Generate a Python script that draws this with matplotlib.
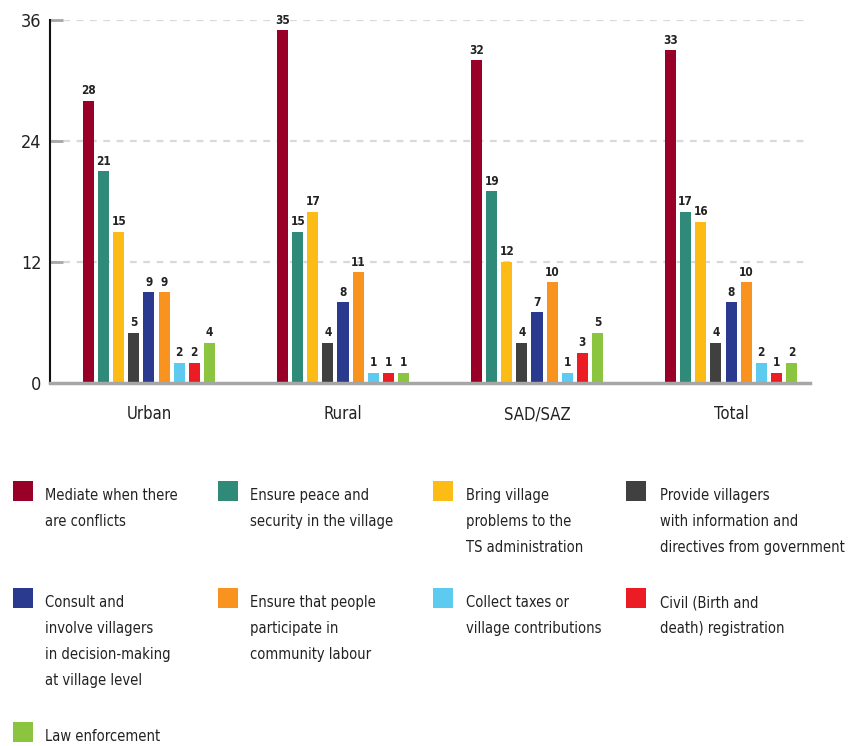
import matplotlib
matplotlib.use("Agg")
import matplotlib.pyplot as plt
from matplotlib import font_manager
from matplotlib.patches import Rectangle
import numpy as np

# ---- data ----
groups = ["Urban", "Rural", "SAD/SAZ", "Total"]
series = [
    "Mediate when there\nare conflicts",
    "Ensure peace and\nsecurity in the village",
    "Bring village\nproblems to the\nTS administration",
    "Provide villagers\nwith information and\ndirectives from government",
    "Consult and\ninvolve villagers\nin decision-making\nat village level",
    "Ensure that people\nparticipate in\ncommunity labour",
    "Collect taxes or\nvillage contributions",
    "Civil (Birth and\ndeath) registration",
    "Law enforcement",
]
values = [
    [28, 35, 32, 33],   # Mediate
    [21, 15, 19, 17],   # Peace and security
    [15, 17, 12, 16],   # Bring problems
    [5, 4, 4, 4],       # Provide information
    [9, 8, 7, 8],       # Consult and involve
    [9, 11, 10, 10],    # Community labour
    [2, 1, 1, 2],       # Collect taxes
    [2, 1, 3, 1],       # Civil registration
    [4, 1, 5, 2],       # Law enforcement
]
yticks = [0, 12, 24, 36]

colors = ["#990028", "#2F8A7A", "#FDBB15", "#404040", "#2A3A8F",
          "#F7931E", "#5CCBEF", "#EC1C24", "#8BC43F"]

# ---- fonts ----
installed = {f.name for f in font_manager.fontManager.ttflist}
if "Liberation Sans Narrow" in installed:
    FAM = ["Liberation Sans Narrow", "DejaVu Sans"]
    STRETCH = "normal"
else:
    FAM = ["DejaVu Sans"]
    STRETCH = "condensed"
plt.rcParams["font.family"] = FAM
plt.rcParams["font.stretch"] = STRETCH

TXT = "#222222"
W, H = 856, 746
fig = plt.figure(figsize=(W / 100, H / 100), dpi=100)

# axes placed in pixel terms
ax_l, ax_r, ax_t, ax_b = 50, 810, 20, 383
ax = fig.add_axes([ax_l / W, 1 - ax_b / H, (ax_r - ax_l) / W, (ax_b - ax_t) / H])

n = len(series)
pitch = 0.0778
bw = 0.057
x = np.arange(len(groups))

for j in range(n):
    xs = x + (j - (n - 1) / 2) * pitch
    ax.bar(xs, values[j], width=bw, color=colors[j], zorder=3, linewidth=0)
    for xi, v in zip(xs, values[j]):
        ax.text(xi, v + 0.35, str(v), ha="center", va="bottom",
                fontsize=8.5, fontweight="bold", color=TXT, zorder=4)

ax.set_xlim(-0.51, 3.407)
ax.set_ylim(0, 36)

# grid and axes styling
for yv in yticks[1:]:
    ax.axhline(yv, color="#d9d9d9", lw=1.6, ls=(0, (3, 3)), zorder=1)
ax.set_yticks(yticks)
ax.set_yticklabels([str(t) for t in yticks], fontsize=13, color=TXT)
ax.tick_params(axis="y", direction="in", length=9.5, width=2, color="#a6a6a6", pad=6)
ax.set_xticks(x)
ax.set_xticklabels(groups, fontsize=12, color=TXT)
ax.tick_params(axis="x", length=0, pad=16)

for s in ["top", "right"]:
    ax.spines[s].set_visible(False)
ax.spines["left"].set_color("#111111")
ax.spines["left"].set_linewidth(1.5)
ax.spines["bottom"].set_color("#a6a6a6")
ax.spines["bottom"].set_linewidth(2.5)
ax.spines["bottom"].set_zorder(5)

# ---- legend laid out in a 4-column grid ----
col_sq = [13, 218, 433, 626]
col_tx = [45, 250, 466, 660]
row_base = [500, 607, 741]
line_step = 26

for k, label in enumerate(series):
    r, c = divmod(k, 4)
    base = row_base[r]
    fig.patches.append(Rectangle(((col_sq[c]) / W, 1 - (base + 1) / H),
                                 20 / W, 20 / H, transform=fig.transFigure,
                                 facecolor=colors[k], edgecolor="none"))
    for li, line in enumerate(label.split("\n")):
        fig.text(col_tx[c] / W, 1 - (base + li * line_step) / H, line,
                 ha="left", va="baseline", fontsize=10.5, color=TXT)

fig.savefig("out.png", dpi=100, facecolor="white")
